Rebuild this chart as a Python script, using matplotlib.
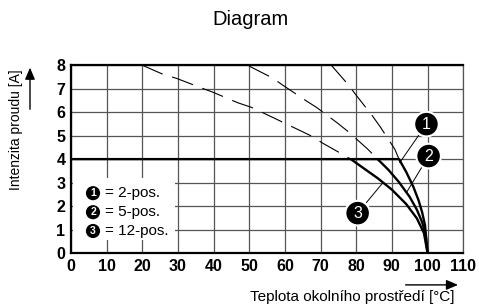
import matplotlib
matplotlib.use('Agg')
import matplotlib.pyplot as plt
from matplotlib.patches import Rectangle, FancyArrowPatch

plt.rcParams['font.family'] = ['Liberation Sans', 'DejaVu Sans']

# solid derating curves (ambient temperature [C], current [A])
t_2pos = [0, 92, 94, 96, 97.5, 98.5, 99.3, 100]
i_2pos = [4, 4.0, 3.46, 2.83, 2.24, 1.73, 1.18, 0]
t_5pos = [86, 89, 92, 95, 97, 98.5, 99.5, 100]
i_5pos = [4.0, 3.55, 3.02, 2.39, 1.85, 1.31, 0.76, 0]
t_12pos = [78.5, 82, 86, 90, 94, 97, 99, 100]
i_12pos = [4.0, 3.62, 3.19, 2.70, 2.09, 1.48, 0.85, 0]

# dashed continuations above 4 A
t_dash1 = [73, 77.6, 80, 84.6, 86.8, 90.8, 92]
i_dash1 = [8.0, 7.2, 6.72, 5.83, 5.36, 4.43, 4.0]
t_dash2 = [50, 56.6, 59.4, 65.8, 68.9, 74.8, 77.6, 83.2, 86]
i_dash2 = [7.96, 7.45, 7.15, 6.5, 6.2, 5.53, 5.19, 4.43, 4.0]
t_dash3 = [20, 26, 29.6, 36.6, 39.8, 46.8, 50.7, 57.1, 60.5, 67.5, 70.6, 77, 78.5]
i_dash3 = [8.0, 7.6, 7.44, 7.03, 6.85, 6.4, 6.2, 5.74, 5.49, 4.98, 4.68, 4.13, 4.0]

legend_labels = ['= 2-pos.', '= 5-pos.', '= 12-pos.']
x_ticks = list(range(0, 111, 10))
y_ticks = list(range(0, 9))

fig = plt.figure(figsize=(4.79, 3.06), dpi=100)
ax = fig.add_axes([0.148, 0.173, 0.819, 0.614])
ax.set_xlim(0, 110)
ax.set_ylim(0, 8)
ax.set_xticks(x_ticks)
ax.set_yticks(y_ticks)
ax.tick_params(length=0, labelsize=11.5, pad=4)
for lab in ax.get_xticklabels() + ax.get_yticklabels():
    lab.set_fontweight('bold')
ax.grid(True, color='#555555', linewidth=0.9)
ax.set_axisbelow(True)
for side in ['left', 'bottom', 'top']:
    ax.spines[side].set_linewidth(1.6)
ax.spines['right'].set_linewidth(0.9)
ax.spines['right'].set_color('#555555')

for t, i in [(t_dash1, i_dash1), (t_dash2, i_dash2), (t_dash3, i_dash3)]:
    ax.plot(t, i, color='black', linewidth=0.8, dashes=(20, 9), zorder=3)
for t, i in [(t_2pos, i_2pos), (t_5pos, i_5pos), (t_12pos, i_12pos)]:
    ax.plot(t, i, color='black', linewidth=1.7, zorder=4, solid_capstyle='butt')

# legend box
ax.add_patch(Rectangle((0.5, 0.55), 28.6, 2.64, facecolor='white', edgecolor='none', zorder=5))
for k, (lab, yy) in enumerate(zip(legend_labels, [2.55, 1.74, 0.94])):
    ax.text(6.2, yy, str(k + 1), color='white', fontsize=7.5, fontweight='bold',
            ha='center', va='center', zorder=7,
            bbox=dict(boxstyle='circle,pad=0.2', fc='black', ec='none'))
    ax.text(9.5, yy, lab, fontsize=11, ha='left', va='center', zorder=7)

# numbered callouts
callouts = [('1', (99.7, 5.49), (92.2, 3.85)),
            ('2', (100.3, 4.13), (94.1, 2.58)),
            ('3', (80.4, 1.7), (87.4, 2.98))]
for num, pos, target in callouts:
    ax.annotate(num, xy=target, xytext=pos, color='white', fontsize=11.5,
                ha='center', va='center', zorder=8,
                bbox=dict(boxstyle='circle,pad=0.3', fc='black', ec='white', lw=1.5),
                arrowprops=dict(arrowstyle='-', color='black', lw=0.7,
                                shrinkA=0, shrinkB=0))

fig.text(0.522, 0.935, 'Diagram', fontsize=14.5, ha='center', va='center')
fig.text(0.034, 0.575, 'Intenzita proudu [A]', fontsize=10, rotation=90,
         ha='center', va='center')
fig.text(0.736, 0.03, 'Teplota okolního prostředí [°C]', fontsize=11,
         ha='center', va='center')

# arrows beside axis labels
fig.add_artist(FancyArrowPatch(
    (0.0626, 0.634), (0.0626, 0.788), transform=fig.transFigure,
    arrowstyle='-|>,head_length=7,head_width=3', color='black', lw=1))
fig.add_artist(FancyArrowPatch(
    (0.841, 0.069), (0.962, 0.069), transform=fig.transFigure,
    arrowstyle='-|>,head_length=7,head_width=3', color='black', lw=1))

fig.savefig('out.png', dpi=100)
